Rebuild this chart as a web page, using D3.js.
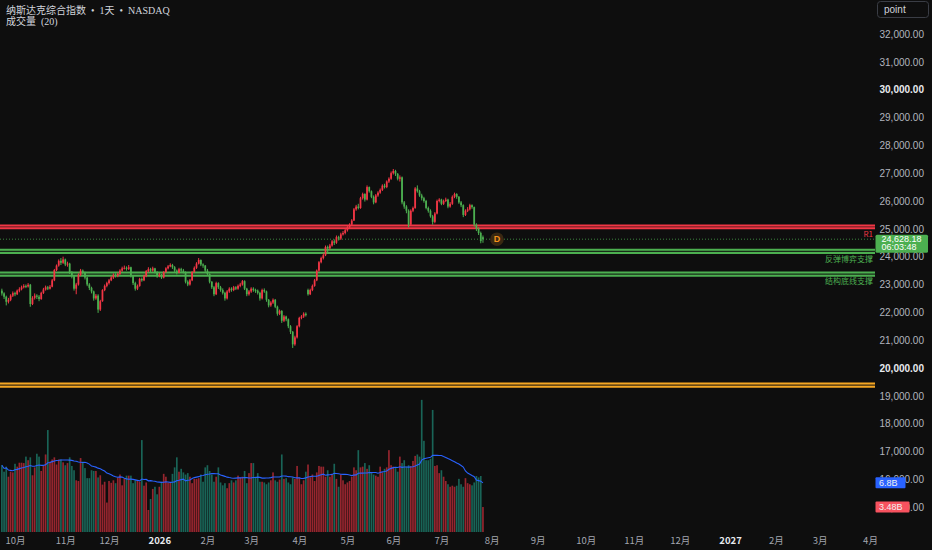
<!DOCTYPE html>
<html>
<head>
<meta charset="utf-8">
<script src="https://cdn.jsdelivr.net/npm/d3@7"></script>
<style>
html, body { margin: 0; padding: 0; background: #0e0e0e; }
svg { display: block; }
</style>
</head>
<body>
<svg id="chart" width="932" height="550"></svg>
<script>
// first bar of the series, bars are weekdays
var startDate = "2025-09-23";

var tickMonths = ["2025-10-01", "2025-11-01", "2025-12-01", "2026-01-01", "2026-02-01", "2026-03-01",
    "2026-04-01", "2026-05-01", "2026-06-01", "2026-07-01", "2026-08-01", "2026-09-01", "2026-10-01",
    "2026-11-01", "2026-12-01", "2027-01-01", "2027-02-01", "2027-03-01", "2027-04-01"];
var monthLabels = ["10月", "11月", "12月", "2026", "2月", "3月", "4月", "5月", "6月", "7月", "8月", "9月",
    "10月", "11月", "12月", "2027", "2月", "3月", "4月"];

var opens = [22780, 22680, 22560, 22380, 22450, 22600, 22690, 22650, 22780, 22830,
    22900, 22950, 22930, 22990, 22300, 22520, 22600, 22560, 22480, 22700,
    22820, 22900, 22850, 22920, 23150, 23520, 23680, 23850, 23780, 23900,
    23720, 23750, 23420, 23300, 22850, 23000, 23350, 23500, 23420, 23250,
    23000, 22880, 22750, 22500, 22600, 22100, 22400, 22800, 22950, 23050,
    23150, 23250, 23350, 23300, 23380, 23500, 23580, 23600, 23560, 23620,
    23300, 23050, 22850, 22950, 23200, 23150, 23300, 23480, 23550, 23500,
    23580, 23450, 23300, 23350, 23250, 23450, 23580, 23650, 23700, 23620,
    23500, 23420, 23550, 23500, 23450, 23100, 23000, 23150, 23450, 23600,
    23750, 23880, 23720, 23680, 23500, 23380, 23100, 22900, 22650, 23050,
    22900, 22800, 22700, 22500, 22750, 22850, 22800, 22900, 22850, 22950,
    23000, 23120, 22850, 22650, 22750, 22850, 22800, 22780, 22700, 22500,
    22800, 22750, 22450, 22250, 22350, 22450, 22200, 21950, 22050, 21700,
    21850, 21750, 21500, 21300, 20850, 21100, 21500, 21800, 21850, 21950,
    22800, 22650, 22800, 22950, 23150, 23500, 23800, 23950, 24050, 24350,
    24300, 24400, 24550, 24500, 24700, 24650, 24800, 24850, 24950, 25050,
    25150, 25300, 25700, 25800, 25750, 26100, 26250, 26050, 26500, 26350,
    26150, 25950, 26200, 26300, 26400, 26550, 26500, 26700, 26800, 27000,
    27080, 26980, 26800, 26850, 25950, 25800, 25650, 25150, 25650, 25750,
    26450, 26350, 26200, 26100, 26000, 25750, 25650, 25450, 25250, 25550,
    26000, 26050, 25900, 26000, 26050, 25800, 25900, 26150, 26250, 26150,
    25950, 25850, 25500, 25650, 25700, 25850, 25780, 25150, 25000, 24850,
    24700];

var highs = [22850, 22720, 22600, 22520, 22650, 22750, 22740, 22820, 22900, 22960,
    23010, 23000, 23050, 23020, 22580, 22680, 22650, 22620, 22740, 22880,
    22960, 22950, 22980, 23200, 23560, 23720, 23900, 23950, 24000, 23930,
    23820, 23780, 23480, 23320, 23060, 23400, 23560, 23540, 23460, 23280,
    23050, 22920, 22780, 22660, 22650, 22450, 22830, 23000, 23100, 23200,
    23300, 23400, 23400, 23430, 23550, 23640, 23680, 23650, 23700, 23640,
    23330, 23100, 23000, 23240, 23250, 23350, 23520, 23620, 23600, 23640,
    23600, 23480, 23420, 23380, 23480, 23620, 23700, 23760, 23740, 23660,
    23540, 23600, 23600, 23560, 23470, 23150, 23200, 23480, 23650, 23800,
    23950, 23900, 23760, 23700, 23560, 23400, 23120, 22950, 23100, 23080,
    22950, 22860, 22740, 22800, 22900, 22900, 22950, 22940, 23000, 23060,
    23160, 23150, 22880, 22800, 22900, 22900, 22850, 22820, 22740, 22850,
    22860, 22780, 22480, 22400, 22500, 22480, 22240, 22100, 22080, 21900,
    21880, 21780, 21540, 21330, 21160, 21540, 21840, 21900, 22000, 22000,
    22850, 22850, 23000, 23200, 23540, 23840, 24000, 24120, 24400, 24400,
    24460, 24600, 24620, 24760, 24750, 24860, 24920, 25000, 25100, 25200,
    25350, 25750, 25860, 25900, 26150, 26300, 26280, 26560, 26520, 26380,
    26200, 26250, 26350, 26450, 26600, 26620, 26740, 26850, 27060, 27150,
    27120, 27000, 26920, 26880, 26000, 25850, 25700, 25700, 25800, 26500,
    26560, 26400, 26260, 26150, 26040, 25800, 25700, 25500, 25600, 26050,
    26100, 26080, 26050, 26120, 26080, 25960, 26200, 26300, 26280, 26180,
    26000, 25880, 25700, 25780, 25900, 25880, 25800, 25200, 25050, 24900,
    24760];

var lows = [22600, 22480, 22250, 22320, 22400, 22550, 22580, 22620, 22720, 22790,
    22860, 22870, 22890, 22200, 22260, 22460, 22480, 22400, 22450, 22660,
    22780, 22800, 22820, 22900, 23120, 23480, 23640, 23700, 23740, 23660,
    23640, 23380, 23220, 22780, 22650, 22960, 23300, 23360, 23180, 22940,
    22800, 22680, 22420, 22450, 21980, 22050, 22380, 22760, 22900, 23000,
    23120, 23200, 23250, 23260, 23340, 23460, 23540, 23500, 23520, 23250,
    22980, 22780, 22800, 22920, 23100, 23120, 23260, 23440, 23440, 23460,
    23400, 23240, 23260, 23200, 23220, 23420, 23540, 23620, 23560, 23450,
    23360, 23400, 23440, 23400, 23040, 22940, 22960, 23120, 23420, 23560,
    23720, 23660, 23600, 23450, 23320, 23040, 22840, 22580, 22620, 22840,
    22740, 22640, 22420, 22460, 22700, 22740, 22760, 22800, 22810, 22900,
    22960, 22800, 22580, 22600, 22700, 22740, 22700, 22640, 22420, 22460,
    22700, 22380, 22180, 22200, 22300, 22150, 21880, 21900, 21620, 21650,
    21680, 21430, 21220, 20720, 20800, 21060, 21460, 21750, 21800, 21850,
    22600, 22620, 22760, 22920, 23120, 23460, 23760, 23900, 24020, 24100,
    24250, 24360, 24420, 24460, 24580, 24600, 24760, 24800, 24900, 25000,
    25100, 25280, 25650, 25700, 25720, 26050, 25980, 26020, 26300, 26100,
    25880, 25920, 26150, 26260, 26360, 26450, 26460, 26650, 26760, 26950,
    26900, 26740, 26700, 25880, 25720, 25560, 25050, 25120, 25600, 25720,
    26300, 26150, 26020, 25940, 25700, 25580, 25400, 25150, 25200, 25520,
    25950, 25850, 25860, 25960, 25740, 25760, 25860, 26100, 26080, 25900,
    25780, 25420, 25460, 25600, 25660, 25720, 25080, 24920, 24780, 24480,
    24500];

var closes = [22680, 22560, 22380, 22450, 22600, 22690, 22650, 22780, 22830, 22900,
    22950, 22930, 22990, 22300, 22520, 22600, 22560, 22480, 22700, 22820,
    22900, 22850, 22920, 23150, 23520, 23680, 23850, 23780, 23900, 23720,
    23750, 23420, 23300, 22850, 23000, 23350, 23500, 23420, 23250, 23000,
    22880, 22750, 22500, 22600, 22100, 22400, 22800, 22950, 23050, 23150,
    23250, 23350, 23300, 23380, 23500, 23580, 23600, 23560, 23620, 23300,
    23050, 22850, 22950, 23200, 23150, 23300, 23480, 23550, 23500, 23580,
    23450, 23300, 23350, 23250, 23450, 23580, 23650, 23700, 23620, 23500,
    23420, 23550, 23500, 23450, 23100, 23000, 23150, 23450, 23600, 23750,
    23880, 23720, 23680, 23500, 23380, 23100, 22900, 22650, 23050, 22900,
    22800, 22700, 22500, 22750, 22850, 22800, 22900, 22850, 22950, 23000,
    23120, 22850, 22650, 22750, 22850, 22800, 22780, 22700, 22500, 22800,
    22750, 22450, 22250, 22350, 22450, 22200, 21950, 22050, 21700, 21850,
    21750, 21500, 21300, 20850, 21100, 21500, 21800, 21850, 21950, 21900,
    22650, 22800, 22950, 23150, 23500, 23800, 23950, 24050, 24350, 24300,
    24400, 24550, 24500, 24700, 24650, 24800, 24850, 24950, 25050, 25150,
    25300, 25700, 25800, 25750, 26100, 26250, 26050, 26500, 26350, 26150,
    25950, 26200, 26300, 26400, 26550, 26500, 26700, 26800, 27000, 27080,
    26980, 26800, 26850, 25950, 25800, 25650, 25150, 25650, 25750, 26450,
    26350, 26200, 26100, 26000, 25750, 25650, 25450, 25250, 25550, 26000,
    26050, 25900, 26000, 26050, 25800, 25900, 26150, 26250, 26150, 25950,
    25850, 25500, 25650, 25700, 25850, 25780, 25150, 25000, 24850, 24560,
    24628.18];

// volume, billions
var volumes = [9.3, 8.4, 9.1, 7.7, 8.4, 8.3, 9.5, 9.1, 9.65, 9.65, 9.6,
    10.5, 10.0, 10.4, 7.9, 9.0, 10.9, 10.5, 8.5, 9.2, 10.8,
    14.2,
    9.8, 10.1, 10.4, 9.4, 10.1, 10.1, 9.7, 9.3, 9.6,
    10.4, 9.2, 8.6, 7.2, 7.1, 10.3, 9.8, 8.9, 7.5, 7.5,
    8.6, 8.5, 8.5, 7.6, 7.9, 6.6, 7.0,
    4.1,
    7.1, 6.85, 7.2, 6.8, 7.6, 8.0, 6.5, 7.4, 7.85, 7.85, 7.85, 6.8,
    7.2, 7.2, 7.0,
    12.8,
    6.45, 6.9,
    3.07,
    4.6, 6.0, 6.3, 5.25, 6.3, 7.0, 8.1, 7.7, 6.9, 6.9, 8.1, 9.0, 10.4,
    8.4, 8.8, 8.3, 8.0, 8.2, 7.7, 6.8, 7.4, 7.4, 7.5,
    8.0, 7.0, 9.0, 9.3, 8.5, 8.0, 7.0, 7.7, 9.0, 6.9,
    6.5, 6.8, 6.1, 6.8, 7.2, 6.9, 7.2, 7.85, 7.6, 7.7,
    8.5, 6.8, 8.2, 9.6, 9.6, 7.7, 8.2, 7.0, 7.0, 6.9,
    6.65, 6.9, 7.2, 8.3, 7.2, 7.0, 7.3,
    10.8,
    7.4, 7.5, 6.9, 6.65, 7.6, 7.4, 9.2, 7.6, 6.65, 7.2, 8.4, 9.4,
    7.6, 8.0, 7.1, 8.3, 9.2, 9.1, 9.1, 7.7, 8.6, 7.7,
    8.0, 9.5, 7.4, 6.3, 8.0, 7.2, 6.65, 6.9, 7.1, 7.7, 9.0, 8.6,
    11.4,
    9.0, 9.1, 9.6, 8.8, 9.3, 8.2, 8.0, 7.85, 7.7, 9.1, 8.3, 8.8, 9.0,
    11.4,
    9.3, 9.1, 8.9, 8.4, 10.5, 9.6, 10.0, 9.1, 9.3, 9.2, 9.9, 10.6, 10.8, 10.5,
    18.4,
    12.7,
    10.0, 10.0, 10.2,
    17.0,
    9.2, 9.3, 8.2, 8.6, 7.7, 7.1, 6.65, 6.3, 6.45, 6.3, 6.45, 7.4, 6.65, 6.3, 7.5, 6.8,
    6.65, 6.5, 6.9, 7.8, 7.6, 7.8,
    3.48];

var levels = [
    { lo: 25020, hi: 25120, color: "#f23645", label: "R1" },
    { lo: 24130, hi: 24245, color: "#4caf50", label: "反弹博弈支撑" },
    { lo: 23310, hi: 23430, color: "#4caf50", label: "结构底线支撑" },
    { lo: 19325, hi: 19440, color: "#f5a623", label: "" }
];
var countdown = "06:03:48";

var upColor = "#f23645",
    downColor = "#4caf50";

var W = 932, H = 550,
    plotW = 875, plotH = 532;

var svg = d3.select("#chart");
svg.append("rect").attr("width", W).attr("height", H).attr("fill", "#0e0e0e");

// trading calendar (weekdays)
var days = [];
var d = new Date(startDate + "T00:00:00Z");
while (days.length < 420) {
    var wd = d.getUTCDay();
    if (wd !== 0 && wd !== 6) days.push(new Date(d));
    d.setUTCDate(d.getUTCDate() + 1);
}
function dayIndex(s) {
    var t = new Date(s + "T00:00:00Z");
    return days.findIndex(function (x) { return x >= t; });
}

var n = Math.min(opens.length, highs.length, lows.length, closes.length, volumes.length);
var bars = d3.range(n).map(function (i) {
    return { i: i, o: opens[i], h: highs[i], l: lows[i], c: closes[i], v: volumes[i] };
});

var x = d3.scaleLinear()
    .domain([dayIndex(tickMonths[0]), dayIndex(tickMonths[tickMonths.length - 1])])
    .range([15, 870]);

var y = d3.scaleLinear()
    .domain([20000, 32000])
    .range([368, 34]);

var yv = d3.scaleLinear()
    .domain([0, 10])
    .range([plotH, plotH - 71.8]);

svg.append("defs").append("clipPath").attr("id", "clip")
    .append("rect").attr("width", plotW).attr("height", plotH);

var plot = svg.append("g").attr("clip-path", "url(#clip)");

// volume bars
var pitch = x(1) - x(0);
plot.append("g").selectAll("rect")
    .data(bars)
    .join("rect")
    .attr("x", function (b) { return x(b.i) - pitch * 0.38; })
    .attr("width", pitch * 0.76)
    .attr("y", function (b) { return yv(b.v); })
    .attr("height", function (b) { return plotH - yv(b.v); })
    .attr("fill", function (b) {
        var prev = b.i > 0 ? closes[b.i - 1] : b.o;
        return b.c >= prev ? "rgba(242,54,69,0.6)" : "rgba(34,171,148,0.55)";
    });

// volume MA(20)
var ma = bars.map(function (b) {
    return d3.mean(volumes.slice(Math.max(0, b.i - 19), b.i + 1));
});
plot.append("path")
    .datum(ma)
    .attr("fill", "none")
    .attr("stroke", "#2962ff")
    .attr("stroke-width", 1.1)
    .attr("d", d3.line().x(function (v, i) { return x(i); }).y(function (v) { return yv(v); }));

// horizontal levels
levels.forEach(function (lv) {
    var g = plot.append("g");
    g.append("rect")
        .attr("x", 0).attr("width", plotW)
        .attr("y", y(lv.hi)).attr("height", y(lv.lo) - y(lv.hi))
        .attr("fill", lv.color).attr("opacity", 0.18);
    [lv.hi, lv.lo].forEach(function (p) {
        g.append("line")
            .attr("x1", 0).attr("x2", plotW)
            .attr("y1", y(p)).attr("y2", y(p))
            .attr("stroke", lv.color).attr("stroke-width", 2);
    });
    if (lv.label) {
        svg.append("text")
            .attr("x", plotW - 2)
            .attr("y", y(lv.lo) + 8.5)
            .attr("text-anchor", "end")
            .attr("fill", lv.color)
            .attr("font-family", "'Noto Sans CJK SC', 'Liberation Sans', sans-serif")
            .attr("font-size", 8)
            .text(lv.label);
    }
});

// last price dotted line
var last = bars[n - 1];
plot.append("line")
    .attr("x1", 0).attr("x2", plotW)
    .attr("y1", y(last.c)).attr("y2", y(last.c))
    .attr("stroke", downColor).attr("stroke-opacity", 0.75)
    .attr("stroke-width", 1).attr("stroke-dasharray", "1,2");

// candles
var candles = plot.append("g").selectAll("g")
    .data(bars)
    .join("g")
    .attr("fill", function (b) { return b.c >= b.o ? upColor : downColor; })
    .attr("stroke", function (b) { return b.c >= b.o ? upColor : downColor; });

candles.append("line")
    .attr("x1", function (b) { return x(b.i); })
    .attr("x2", function (b) { return x(b.i); })
    .attr("y1", function (b) { return y(b.h); })
    .attr("y2", function (b) { return y(b.l); })
    .attr("stroke-width", 1);

candles.append("rect")
    .attr("stroke", "none")
    .attr("x", function (b) { return x(b.i) - pitch * 0.4; })
    .attr("width", pitch * 0.8)
    .attr("y", function (b) { return y(Math.max(b.o, b.c)); })
    .attr("height", function (b) { return Math.max(1, Math.abs(y(b.o) - y(b.c))); });

// "D" marker
var dm = svg.append("g").attr("transform", "translate(" + x(last.i + 6.4) + "," + y(last.c) + ")");
dm.append("circle").attr("r", 6.8).attr("fill", "#3a2812");
dm.append("text")
    .attr("text-anchor", "middle").attr("dy", "0.36em")
    .attr("fill", "#f7931a")
    .attr("font-family", "'Liberation Sans', sans-serif")
    .attr("font-size", 9).attr("font-weight", "bold")
    .text("D");

// price axis
var yAxis = svg.append("g")
    .attr("transform", "translate(" + plotW + ",0)")
    .call(d3.axisRight(y)
        .tickValues(d3.range(15000, 32001, 1000))
        .tickSize(0)
        .tickFormat(d3.format(",.2f")));
yAxis.select(".domain").remove();
yAxis.selectAll("text")
    .attr("x", 49)
    .attr("text-anchor", "end")
    .attr("font-family", "'Liberation Sans', Arial, sans-serif")
    .attr("font-size", 10)
    .attr("fill", function (v) { return v % 10000 === 0 ? "#e8eaee" : "#b2b5be"; })
    .attr("font-weight", function (v) { return v % 10000 === 0 ? "bold" : "normal"; });

// time axis
var tickIdx = tickMonths.map(dayIndex);
var xAxis = svg.append("g")
    .attr("transform", "translate(0," + plotH + ")")
    .call(d3.axisBottom(x)
        .tickValues(tickIdx)
        .tickSize(0)
        .tickPadding(5.5)
        .tickFormat(function (v, i) { return monthLabels[i]; }));
xAxis.select(".domain").remove();
xAxis.selectAll("text")
    .attr("font-family", "'Noto Sans CJK SC', 'Liberation Sans', sans-serif")
    .attr("font-size", 9.5)
    .attr("fill", function (v, i) { return /^\d{4}$/.test(monthLabels[i]) ? "#e8eaee" : "#a3a6af"; })
    .attr("font-weight", function (v, i) { return /^\d{4}$/.test(monthLabels[i]) ? "bold" : "normal"; });

// last price label
var py = y(last.c);
svg.append("rect")
    .attr("x", plotW + 0.5).attr("y", py - 4.5)
    .attr("width", 52.5).attr("height", 18)
    .attr("rx", 1.5)
    .attr("fill", downColor);
svg.append("text")
    .attr("x", plotW + 6.5).attr("y", py + 2.8)
    .attr("fill", "#ffffff")
    .attr("font-family", "'Liberation Sans', Arial, sans-serif")
    .attr("font-size", 9)
    .text(d3.format(",.2f")(last.c));
svg.append("text")
    .attr("x", plotW + 6.5).attr("y", py + 11.2)
    .attr("fill", "#ffffff")
    .attr("font-family", "'Liberation Sans', Arial, sans-serif")
    .attr("font-size", 9)
    .text(countdown);

// volume labels, drawn over the price scale as in the reference
function volTag(v, color, w, fmt) {
    var vy = yv(v);
    svg.append("rect")
        .attr("x", plotW + 0.5).attr("y", vy - 5.5)
        .attr("width", w).attr("height", 11)
        .attr("rx", 1)
        .attr("fill", color);
    svg.append("text")
        .attr("x", plotW + 4).attr("y", vy + 3.3)
        .attr("fill", "#f0f0f0")
        .attr("font-family", "'Liberation Sans', Arial, sans-serif")
        .attr("font-size", 9)
        .text(d3.format(fmt)(v) + "B");
}
volTag(ma[n - 1], "#2962ff", 30, ".1f");
volTag(last.v, "#f7525f", 34, ".2f");

// header (non-breaking spaces keep the wide gaps)
var sp = "\u00a0\u00a0";
var header = svg.append("g")
    .attr("font-family", "'Liberation Serif', 'Noto Sans CJK SC', serif")
    .attr("font-size", 10)
    .attr("fill", "#d1d4dc");
header.append("text").attr("x", 6).attr("y", 14)
    .text("纳斯达克综合指数" + sp + "•" + sp + "1天" + sp + "•" + sp + "NASDAQ");
header.append("text").attr("x", 6).attr("y", 25).text("成交量" + sp + "(20)");

// scale mode box
svg.append("rect")
    .attr("x", 877.5).attr("y", 1.5)
    .attr("width", 51).attr("height", 16)
    .attr("rx", 3)
    .attr("fill", "#0e0e0e")
    .attr("stroke", "#3a3d45");
svg.append("text")
    .attr("x", 884).attr("y", 13)
    .attr("fill", "#d1d4dc")
    .attr("font-family", "'Liberation Sans', Arial, sans-serif")
    .attr("font-size", 10)
    .text("point");
</script>
</body>
</html>
